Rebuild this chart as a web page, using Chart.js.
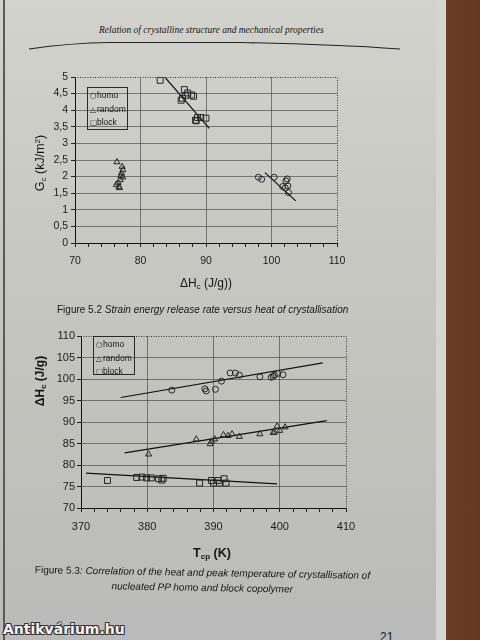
<!DOCTYPE html>
<html lang="en">
<head>
<meta charset="UTF-8">
<title>Figures 5.2 and 5.3</title>
<script src="https://cdn.jsdelivr.net/npm/chart.js"></script>
<style>
  body { margin: 0; width: 480px; height: 640px; overflow: hidden; position: relative;
         background: linear-gradient(90deg, #7a4a2b, #5e3419 40%, #82522f 70%, #643820);
         font-family: "Liberation Sans", Arial, sans-serif; color: #161616; }
  .page { position: absolute; left: 0; top: 0; width: 446px; height: 640px;
          background: linear-gradient(180deg, #d3d3ce 0%, #c9c9c4 35%, #c2c2bd 65%, #bababa 100%); }
  .page::before { content: ""; position: absolute; left: 3px; top: 0; width: 2px; height: 640px; background: #5a5a57; }
  .page::after { content: ""; position: absolute; right: 0; top: 0; width: 10px; height: 640px; background: #d6d6d1; }
  canvas { position: absolute; }
  .abs { position: absolute; white-space: nowrap; }
  .header { left: 99px; top: 25px; font: italic 9.5px "Liberation Serif", "Times New Roman", serif; }
  .legend { position: absolute; border: 1px solid #2a2a2a; font-size: 8.5px; line-height: 13.5px;
            padding: 1px 0 0 2px; box-sizing: border-box; white-space: nowrap; }
  .legend span { display: inline-block; width: 7px; font-family: "DejaVu Sans", sans-serif; font-size: 7.5px; }
  .ytitle { transform: translate(-50%, -50%) rotate(-90deg); }
  .xtitle { transform: translate(-50%, -50%); }
  sub { font-size: 65%; vertical-align: -2px; }
  sup { font-size: 65%; vertical-align: 4px; }
  .cap { font-size: 10px; }
  .cap i { font-style: italic; }
  .wm { left: 3px; top: 621px; font: bold 14px "DejaVu Sans", sans-serif; color: #f4f4f4;
        text-shadow: 1px 1px 0 #333, -1px -1px 0 #333, 1px -1px 0 #333, -1px 1px 0 #333; }
</style>
</head>
<body>
<div class="page"></div>
<div class="abs header">Relation of crystalline structure and mechanical properties</div>
<svg class="abs" style="left:0;top:0" width="446" height="60">
  <path d="M29 49 Q 70 43 110 42.5 L 240 42.5 Q 330 44 400 49" fill="none" stroke="#222" stroke-width="1.2"/>
</svg>

<canvas id="fig52" width="360" height="240" style="left:0;top:60px"></canvas>
<canvas id="fig53" width="370" height="240" style="left:0;top:320px"></canvas>

<div class="legend" style="left:87px;top:87px;width:41px;height:43px">
  <div><span>○</span>homo</div><div><span>△</span>random</div><div><span>□</span>block</div>
</div>
<div class="legend" style="left:93px;top:336px;width:42px;height:39px;line-height:12.5px">
  <div><span>○</span>homo</div><div><span>△</span>random</div><div><span>□</span>block</div>
</div>

<div class="abs ytitle" style="left:40px;top:163px;font-size:12.5px">G<sub>c</sub> (kJ/m<sup>2</sup>)</div>
<div class="abs xtitle" style="left:206px;top:283px;font-size:12px">&Delta;H<sub>c</sub> (J/g))</div>
<div class="abs cap" style="left:57px;top:304px">Figure 5.2 <i>Strain energy release rate versus heat of crystallisation</i></div>

<div class="abs ytitle" style="left:40px;top:381px;font-size:12px;font-weight:bold">&Delta;H<sub>c</sub> (J/g)</div>
<div class="abs xtitle" style="left:212px;top:553px;font-size:12.5px;font-weight:bold">T<sub>cp</sub> (K)</div>
<div class="abs cap" style="left:35px;top:562px;transform:rotate(1deg);transform-origin:left top;text-align:center;line-height:15px">
  Figure 5.3<i>: Correlation of the heat and peak temperature of crystallisation of</i><br>
  <i>nucleated PP homo and block copolymer</i>
</div>

<div class="abs wm">Antikvárium.hu</div>
<div class="abs" style="left:380px;top:630px;font-size:12px">21</div>

<script>
// Figure 5.2: Gc (kJ/m2) against heat of crystallisation (J/g)
const homoHc = [98.0, 98.5, 100.4, 101.7, 102.1, 102.2, 102.4, 102.5, 102.6];
const homoGc = [1.98, 1.92, 1.98, 1.70, 1.66, 1.87, 1.93, 1.72, 1.52];
const randomHc = [76.4, 77.2, 77.3, 77.1, 77.3, 76.9, 76.6, 76.7, 76.3, 77.0, 76.8];
const randomGc = [2.44, 2.30, 2.20, 2.10, 1.98, 1.90, 1.82, 1.70, 1.76, 2.02, 1.66];
const blockHc = [83.0, 86.2, 86.4, 86.7, 87.2, 87.8, 88.1, 86.9, 88.4, 88.7, 89.2, 90.0, 88.5];
const blockGc = [4.90, 4.30, 4.36, 4.62, 4.52, 4.46, 4.42, 4.45, 3.70, 3.78, 3.78, 3.76, 3.68];
const blockFitHc = [83.7, 90.5];
const blockFitGc = [5.0, 3.45];
const homoFitHc = [99.0, 103.7];
const homoFitGc = [2.12, 1.27];

// Figure 5.3: heat of crystallisation (J/g) against peak temperature (K)
const homoTcp = [383.7, 388.7, 388.9, 390.3, 391.2, 392.5, 393.3, 393.9, 397.0, 398.7, 399.2, 399.7, 400.5, 399.0];
const homoH = [97.4, 97.7, 97.2, 97.6, 99.5, 101.4, 101.4, 100.9, 100.5, 100.4, 100.9, 101.3, 101.0, 100.6];
const randomTcp = [380.2, 387.4, 389.5, 389.7, 390.2, 391.5, 392.2, 392.8, 393.9, 397.0, 399.0, 399.6, 400.0, 400.8, 399.2];
const randomH = [82.5, 86.0, 84.9, 85.5, 86.0, 87.0, 86.8, 87.2, 86.6, 87.2, 87.5, 89.0, 88.0, 88.8, 87.6];
const blockTcp = [374.0, 378.4, 379.2, 379.9, 380.6, 381.7, 382.2, 382.4, 387.9, 389.7, 390.0, 390.7, 390.9, 391.6, 391.9];
const blockH = [76.4, 77.1, 77.2, 77.0, 77.0, 76.8, 76.5, 76.9, 75.8, 76.4, 75.8, 76.4, 75.8, 76.8, 75.8];
const homoFitTcp = [376.0, 406.5];
const homoFitH = [95.7, 103.75];
const randomFitTcp = [376.6, 407.1];
const randomFitH = [82.8, 90.3];
const blockFitTcp = [370.75, 399.6];
const blockFitH = [78.1, 75.6];

const pts = (xs, ys) => xs.map((x, i) => ({ x: x, y: ys[i] }));
const ink = '#262626';
const gridInk = 'rgba(45,45,45,0.55)';

const marks = (data, style, r) => ({
  data: data, pointStyle: style, pointRadius: r, borderColor: ink, borderWidth: 1,
  backgroundColor: 'rgba(0,0,0,0)', showLine: false
});
const fit = (data) => ({
  data: data, showLine: true, pointRadius: 0, borderColor: '#111', borderWidth: 1.2, fill: false
});

// top and right frame of the plot are dotted in the book
const dottedFrame = {
  id: 'dottedFrame',
  afterDraw(chart) {
    const { ctx, chartArea: a } = chart;
    ctx.save();
    ctx.strokeStyle = '#333';
    ctx.lineWidth = 1;
    ctx.setLineDash([1, 1.5]);
    ctx.beginPath();
    ctx.moveTo(a.left, Math.round(a.top) + 0.5);
    ctx.lineTo(Math.round(a.right) + 0.5, Math.round(a.top) + 0.5);
    ctx.lineTo(Math.round(a.right) + 0.5, a.bottom);
    ctx.stroke();
    ctx.restore();
  }
};

function makeChart(id, datasets, x, y, box) {
  new Chart(document.getElementById(id), {
    type: 'scatter',
    data: { datasets: datasets },
    plugins: [dottedFrame],
    options: {
      responsive: false,
      animation: false,
      layout: { padding: { left: 0, top: box.top, right: box.right, bottom: 0 } },
      plugins: { legend: { display: false }, tooltip: { enabled: false } },
      scales: {
        x: {
          min: x.min, max: x.max,
          afterFit: s => { s.height = box.xh; },
          border: { color: '#111', width: 1 },
          grid: {
            color: c => (c.tick.value % x.major === 0 && c.tick.value !== x.max) ? gridInk : 'rgba(0,0,0,0)',
            tickColor: '#222', tickLength: 4
          },
          ticks: {
            stepSize: x.step, autoSkip: false, maxRotation: 0, padding: 8,
            color: '#1c1c1c', font: { family: 'Liberation Sans', size: x.font },
            callback: v => (v % x.major === 0 ? String(v) : '')
          }
        },
        y: {
          min: y.min, max: y.max,
          afterFit: s => { s.width = box.yw; },
          border: { color: '#111', width: 1 },
          grid: {
            color: c => (c.tick.value !== y.max) ? gridInk : 'rgba(0,0,0,0)',
            tickColor: '#222', tickLength: 4
          },
          ticks: {
            stepSize: y.step, padding: y.pad,
            color: '#1c1c1c', font: { family: 'Liberation Sans', size: y.font },
            callback: v => String(v).replace('.', ',')
          }
        }
      }
    }
  });
}

makeChart('fig52', [
  marks(pts(homoHc, homoGc), 'circle', 3),
  marks(pts(randomHc, randomGc), 'triangle', 3.5),
  marks(pts(blockHc, blockGc), 'rect', 4.2),
  fit(pts(blockFitHc, blockFitGc)),
  fit(pts(homoFitHc, homoFitGc))
], { min: 70, max: 110, step: 2, major: 10, font: 10.5 },
   { min: 0, max: 5, step: 0.5, font: 10.5, pad: 3 },
   { top: 17, right: 23, xh: 57, yw: 75 });

makeChart('fig53', [
  marks(pts(homoTcp, homoH), 'circle', 3),
  marks(pts(randomTcp, randomH), 'triangle', 3.5),
  marks(pts(blockTcp, blockH), 'rect', 4.2),
  fit(pts(homoFitTcp, homoFitH)),
  fit(pts(randomFitTcp, randomFitH)),
  fit(pts(blockFitTcp, blockFitH))
], { min: 370, max: 410, step: 2, major: 10, font: 11 },
   { min: 70, max: 110, step: 5, font: 11, pad: 2 },
   { top: 16, right: 24, xh: 52, yw: 81 });
</script>
</body>
</html>
